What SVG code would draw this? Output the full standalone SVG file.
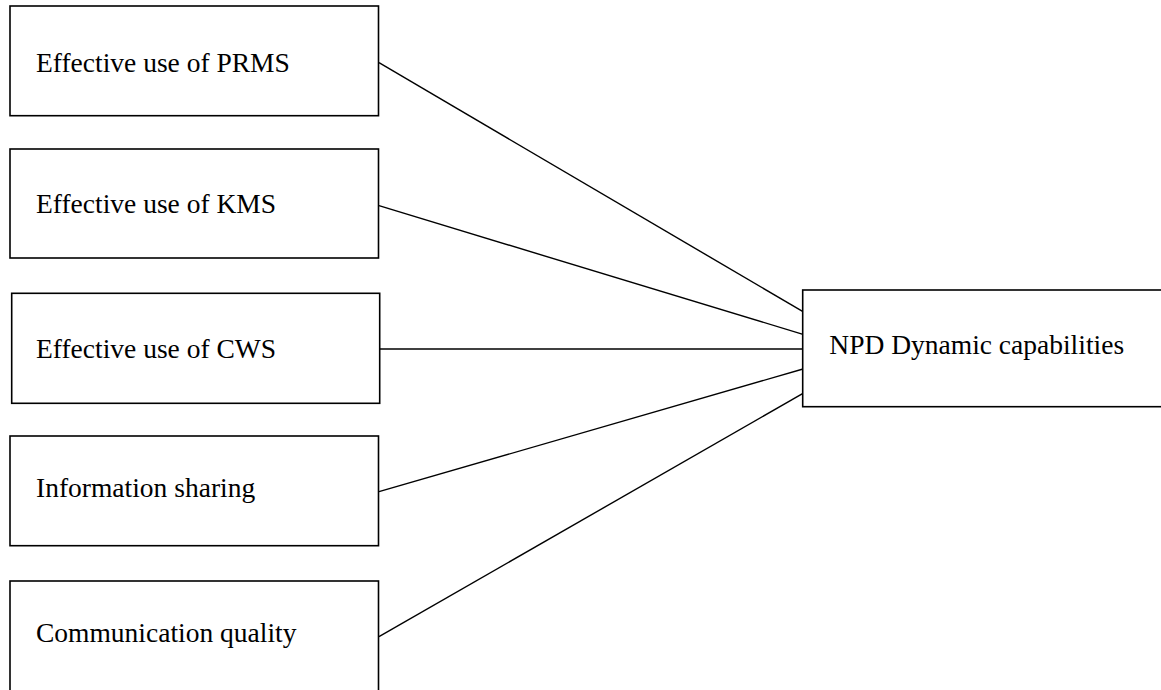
<svg xmlns="http://www.w3.org/2000/svg" width="1161" height="690" viewBox="0 0 1161 690">
<style>
.box{fill:#fff;stroke:#000;stroke-width:1.6}
.lbl{font-family:"Liberation Serif","Times New Roman",serif;font-size:27.5px;fill:#000}
.conn line{stroke:#000;stroke-width:1.4}
</style>
<rect width="1161" height="690" fill="#fff"/>
<g id="connectors" class="conn">
<line x1="379" y1="62.7" x2="803" y2="311.7"/>
<line x1="379" y1="205.7" x2="803" y2="334.3"/>
<line x1="380" y1="349" x2="803" y2="349"/>
<line x1="379" y1="491.7" x2="803" y2="369"/>
<line x1="379" y1="636.7" x2="803" y2="393.3"/>
</g>
<g id="prms"><rect class="box" x="10" y="6" width="368.5" height="109.7"/><text class="lbl" x="36" y="71.7">Effective use of PRMS</text></g>
<g id="kms"><rect class="box" x="10" y="149" width="368.5" height="109"/><text class="lbl" x="36" y="213.3">Effective use of KMS</text></g>
<g id="cws"><rect class="box" x="11.7" y="293.3" width="368" height="110"/><text class="lbl" x="36" y="358.3">Effective use of CWS</text></g>
<g id="info"><rect class="box" x="10" y="436" width="368.5" height="109.7"/><text class="lbl" x="36" y="496.7">Information sharing</text></g>
<g id="comm"><rect class="box" x="10" y="581" width="368.5" height="120"/><text class="lbl" x="36" y="641.7">Communication quality</text></g>
<g id="npd"><rect class="box" x="802.7" y="290" width="370" height="116.7"/><text class="lbl" x="829.3" y="354">NPD Dynamic capabilities</text></g>
</svg>
